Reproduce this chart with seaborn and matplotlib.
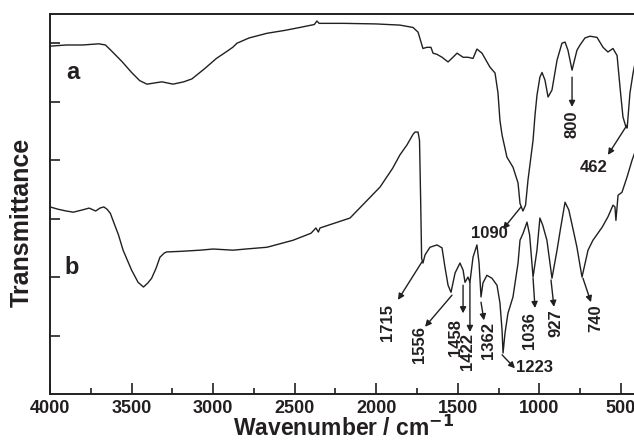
import matplotlib
matplotlib.use("Agg")
import matplotlib.pyplot as plt
import seaborn as sns
import pandas as pd
import numpy as np

# ---- data (wavenumber cm^-1, transmittance a.u.) ----
wn_a = [4000, 3900, 3800, 3700, 3660, 3620, 3560, 3500, 3450, 3406, 3360, 3314, 3246, 3180,
        3130, 3050, 2980, 2916, 2880, 2854, 2780, 2670, 2560, 2468, 2380, 2364, 2350, 2200,
        2000, 1855, 1775, 1744, 1714, 1690, 1665, 1652, 1628, 1597, 1560, 1530, 1505, 1468,
        1438, 1407, 1383, 1352, 1303, 1272, 1254, 1242, 1229, 1199, 1162, 1131, 1119, 1101,
        1085, 1070, 1039, 1027, 1015, 997, 984, 966, 947, 923, 892, 862, 843, 825, 800, 770,
        751, 721, 690, 647, 610, 580, 549, 524, 506, 488, 469, 462, 445, 426, 410]
t_a = [5.95, 5.97, 5.97, 5.99, 5.97, 5.86, 5.69, 5.50, 5.36, 5.30, 5.32, 5.34, 5.30, 5.34,
       5.39, 5.57, 5.74, 5.86, 5.93, 6.00, 6.09, 6.17, 6.22, 6.27, 6.32, 6.38, 6.34, 6.34,
       6.33, 6.31, 6.27, 6.19, 5.91, 5.93, 5.93, 5.83, 5.81, 5.76, 5.68, 5.76, 5.83, 5.76,
       5.76, 5.74, 5.90, 5.83, 5.59, 5.49, 5.15, 4.68, 4.43, 4.05, 3.88, 3.61, 3.26, 3.13,
       3.23, 3.66, 4.34, 4.77, 5.11, 5.42, 5.50, 5.37, 5.08, 5.20, 5.71, 6.00, 6.02, 5.88,
       5.54, 5.88, 5.97, 6.09, 6.12, 6.10, 5.93, 5.85, 5.91, 5.79, 5.25, 4.74, 4.56, 4.55,
       5.15, 5.49, 5.71]

wn_b = [4000, 3950, 3900, 3857, 3800, 3760, 3720, 3694, 3670, 3650, 3630, 3614, 3580, 3552,
        3500, 3460, 3427, 3400, 3377, 3350, 3326, 3300, 3285, 3200, 3081, 3000, 2878, 2800,
        2670, 2510, 2400, 2370, 2355, 2345, 2161, 1977, 1900, 1855, 1812, 1775, 1763, 1744,
        1735, 1728, 1722, 1714, 1701, 1671, 1628, 1597, 1579, 1560, 1542, 1517, 1487, 1468,
        1456, 1438, 1426, 1407, 1383, 1370, 1358, 1346, 1322, 1291, 1260, 1242, 1229, 1223,
        1211, 1193, 1162, 1131, 1119, 1100, 1076, 1060, 1039, 1015, 997, 980, 954, 923, 892,
        870, 843, 820, 790, 770, 739, 702, 672, 659, 629, 616, 580, 549, 537, 531, 518, 494,
        463, 432, 410]
t_b = [3.20, 3.16, 3.13, 3.11, 3.15, 3.18, 3.13, 3.18, 3.20, 3.16, 3.09, 2.97, 2.72, 2.46,
       2.12, 1.91, 1.83, 1.90, 1.98, 2.15, 2.34, 2.41, 2.43, 2.44, 2.46, 2.48, 2.46, 2.48,
       2.51, 2.63, 2.75, 2.84, 2.77, 2.84, 3.01, 3.54, 3.86, 4.09, 4.26, 4.44, 4.48, 4.48,
       4.34, 3.32, 2.32, 2.24, 2.38, 2.51, 2.55, 2.50, 2.17, 1.86, 1.74, 2.07, 2.24, 2.12,
       1.91, 2.00, 1.91, 2.34, 2.55, 2.24, 1.66, 1.90, 2.03, 1.98, 1.86, 1.56, 1.09, 0.70,
       1.04, 1.38, 1.66, 2.24, 2.63, 2.75, 2.94, 2.72, 2.00, 2.46, 3.01, 2.89, 2.63, 1.98,
       2.46, 2.84, 3.28, 3.15, 2.77, 2.51, 2.00, 2.46, 2.63, 2.68, 2.80, 2.85, 3.03, 3.23,
       3.20, 2.97, 3.40, 3.45, 3.71, 4.00, 4.17]

x_ticks = [4000, 3500, 3000, 2500, 2000, 1500, 1000, 500]
x_tick_labels = ["4000", "3500", "3000", "2500", "2000", "1500", "1000", "500"]

# peak annotations: label, text position (wn, T), arrow start (wn, T), arrow end (wn, T), rotation
peak_labels = ["800", "462", "1090", "1715", "1556", "1458", "1422", "1362", "1223", "1036", "927", "740"]
peak_text_xy = [(800, 4.62), (665, 3.88), (1309, 2.74), (1934, 1.23), (1732, 0.85), (1517, 0.96),
                (1438, 0.72), (1315, 0.92), (1033, 0.46), (1058, 1.08), (898, 1.21), (653, 1.30)]
peak_arrow_from = [(800, 5.42), (463, 4.60), (1113, 3.20), (1720, 2.26), (1536, 1.69), (1468, 1.86),
                   (1426, 1.91), (1358, 1.57), (1229, 0.67), (1039, 1.98), (929, 1.95), (733, 1.98)]
peak_arrow_to = [(800, 4.91), (580, 4.09), (1223, 2.82), (1867, 1.61), (1701, 1.15), (1468, 1.38),
                 (1426, 1.06), (1340, 1.26), (1150, 0.44), (1027, 1.47), (911, 1.49), (684, 1.57)]
peak_rot = [90, 0, 0, 90, 90, 90, 90, 90, 0, 90, 90, 90]

curve_names = ["a", "b"]
curve_name_xy = [(3859, 5.50), (3865, 2.17)]

# ---- style ----
sns.set_theme(style="ticks")
plt.rcParams["font.family"] = ["Liberation Sans", "DejaVu Sans"]
plt.rcParams["font.weight"] = "bold"
plt.rcParams["mathtext.default"] = "bf"

ink = "#231f20"
fig = plt.figure(figsize=(6.34, 4.42), dpi=100)
ax = fig.add_axes([50 / 634, 1 - 394 / 442, 587.3 / 634, 380 / 442])

df = pd.concat([
    pd.DataFrame({"wn": wn_a, "T": t_a, "s": "a"}),
    pd.DataFrame({"wn": wn_b, "T": t_b, "s": "b"}),
])
sns.lineplot(data=df, x="wn", y="T", units="s", estimator=None, color=ink, lw=1.0, ax=ax, sort=False)

ax.set_xlim(4000, 400)
ax.set_ylim(0, 6.5)
ax.set_xticks(x_ticks)
ax.set_xticklabels(x_tick_labels, fontsize=13, fontweight="bold", color=ink)
ax.set_xticks(np.arange(3750, 400, -500), minor=True)
ax.set_yticks([1, 2, 3, 4, 5, 6])
ax.set_yticklabels([])
ax.tick_params(axis="x", which="major", direction="in", length=8, width=1.2, color=ink, pad=4)
ax.tick_params(axis="x", which="minor", direction="in", length=4.5, width=1.2, color=ink)
ax.tick_params(axis="y", which="major", direction="in", length=7, width=1.2, color=ink)
for side in ["top", "left", "bottom"]:
    ax.spines[side].set_linewidth(1.4)
    ax.spines[side].set_color(ink)
ax.spines["right"].set_visible(False)

ax.set_xlabel("")
ax.set_ylabel("")
fig.text(344 / 634, 1 - 441 / 442, "Wavenumber / cm$^{-1}$", fontsize=16.5, fontweight="bold",
         color=ink, ha="center", va="bottom")
fig.text(22 / 634, 1 - 222 / 442, "Transmittance", rotation=90, fontsize=18, fontweight="bold",
         color=ink, ha="center", va="center")

for name, (x, y) in zip(curve_names, curve_name_xy):
    ax.text(x, y, name, fontsize=17, fontweight="bold", color=ink, ha="center", va="center")

for lab, txy, a0, a1, rot in zip(peak_labels, peak_text_xy, peak_arrow_from, peak_arrow_to, peak_rot):
    ax.annotate("", xy=a1, xytext=a0,
                arrowprops=dict(arrowstyle="-|>", color=ink, lw=1.0, mutation_scale=9,
                                shrinkA=0, shrinkB=0))
    ax.text(txy[0], txy[1], lab, rotation=rot, fontsize=12, fontweight="bold", color=ink,
            ha="center", va="center")

fig.savefig("out.png", dpi=100)
